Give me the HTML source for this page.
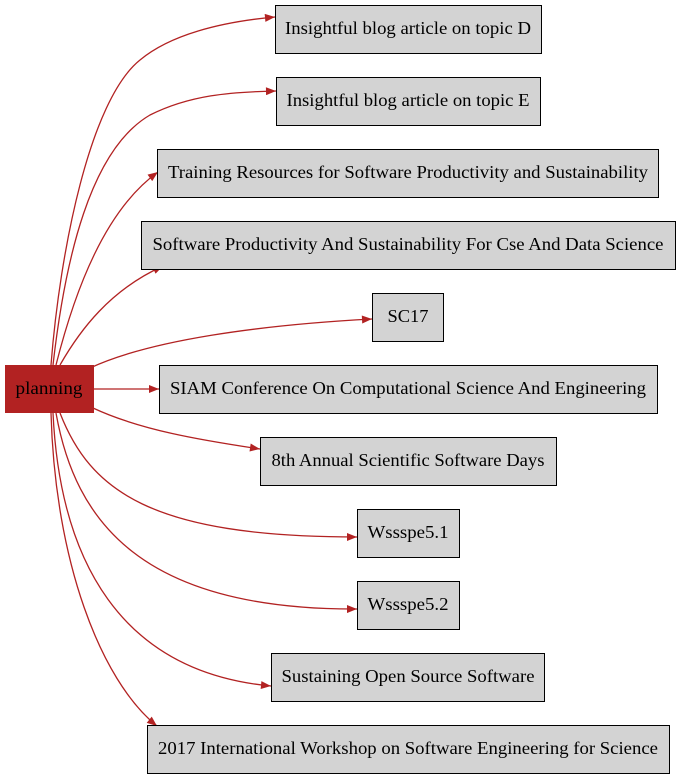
<!DOCTYPE html>
<html><head><style>
body{margin:0;background:#fff;}
svg{display:block;}
text{font-family:"Liberation Serif",serif;font-size:17.5px;text-anchor:middle;}
</style></head><body>
<svg width="680" height="779" viewBox="0 0 680 779">
<defs>
<marker id="a" viewBox="0 0 10 8" refX="10" refY="4" markerWidth="11" markerHeight="8" markerUnits="userSpaceOnUse" orient="auto">
<path d="M0,0 L10,4 L0,8 Z" fill="#b22222"/>
</marker>
</defs>
<g fill="none" stroke="#b22222" stroke-width="1.3" marker-end="url(#a)">
<path d="M51,365 C60,250 90,100 140,60 C170,35 220,22 275,17"/>
<path d="M53,365 C65,260 90,150 150,115 C190,95 230,92 276,91"/>
<path d="M56,365 C75,290 105,210 158,172"/>
<path d="M60,365 C80,330 110,290 163,266"/>
<path d="M90,368 C150,340 260,325 372,319"/>
<path d="M93,389 L159,389"/>
<path d="M93,408 C140,430 200,440 260,449"/>
<path d="M60,413 C90,490 150,537 357,537"/>
<path d="M56,413 C75,520 140,610 357,609"/>
<path d="M53,413 C60,560 120,672 271,686"/>
<path d="M51,413 C55,560 100,680 157,726"/>
</g>
<rect x="5.5" y="365.5" width="88" height="47" fill="#b22222" stroke="#b22222"/>
<text x="49" y="394" textLength="67" lengthAdjust="spacingAndGlyphs">planning</text>
<g fill="#d3d3d3" stroke="#000" stroke-width="1">
<rect x="275.5" y="5.5" width="266" height="48"/>
<rect x="276.5" y="77.5" width="264" height="48"/>
<rect x="157.5" y="149.5" width="501" height="48"/>
<rect x="141.5" y="221.5" width="534" height="48"/>
<rect x="372.5" y="293.5" width="71" height="48"/>
<rect x="159.5" y="365.5" width="498" height="48"/>
<rect x="260.5" y="437.5" width="296" height="48"/>
<rect x="357.5" y="509.5" width="102" height="48"/>
<rect x="357.5" y="581.5" width="102" height="48"/>
<rect x="271.5" y="653.5" width="273" height="48"/>
<rect x="147.5" y="725.5" width="522" height="48"/>
</g>
<g>
<text x="408" y="34" textLength="246" lengthAdjust="spacingAndGlyphs">Insightful blog article on topic D</text>
<text x="408" y="106" textLength="243" lengthAdjust="spacingAndGlyphs">Insightful blog article on topic E</text>
<text x="408" y="178" textLength="480" lengthAdjust="spacingAndGlyphs">Training Resources for Software Productivity and Sustainability</text>
<text x="408" y="250" textLength="511" lengthAdjust="spacingAndGlyphs">Software Productivity And Sustainability For Cse And Data Science</text>
<text x="408" y="322" textLength="41" lengthAdjust="spacingAndGlyphs">SC17</text>
<text x="408" y="394" textLength="476" lengthAdjust="spacingAndGlyphs">SIAM Conference On Computational Science And Engineering</text>
<text x="408" y="466" textLength="273" lengthAdjust="spacingAndGlyphs">8th Annual Scientific Software Days</text>
<text x="408" y="538" textLength="81" lengthAdjust="spacingAndGlyphs">Wssspe5.1</text>
<text x="408" y="610" textLength="81" lengthAdjust="spacingAndGlyphs">Wssspe5.2</text>
<text x="408" y="682" textLength="253" lengthAdjust="spacingAndGlyphs">Sustaining Open Source Software</text>
<text x="408" y="754" textLength="500" lengthAdjust="spacingAndGlyphs">2017 International Workshop on Software Engineering for Science</text>
</g>
</svg>
</body></html>
